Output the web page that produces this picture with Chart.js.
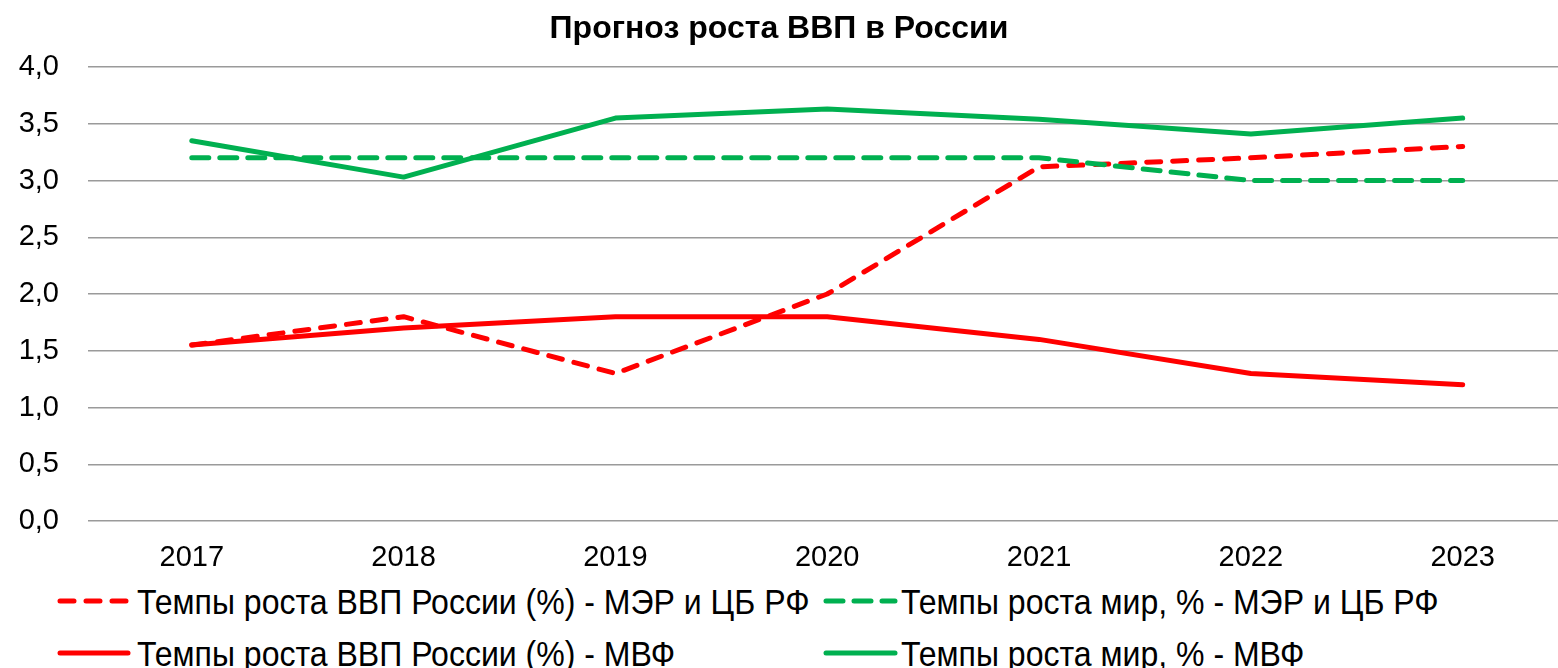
<!DOCTYPE html>
<html>
<head>
<meta charset="utf-8">
<script src="https://cdn.jsdelivr.net/npm/chart.js@4.4.1/dist/chart.umd.min.js"></script>
<style>
  html, body { margin: 0; padding: 0; background: #fff; overflow: hidden; }
  #wrap { position: relative; width: 1558px; height: 668px; overflow: hidden; }
  #c { position: absolute; left: 0; top: 0; }
  .lg { position: absolute; height: 40px; white-space: nowrap; }
  .lg svg { position: absolute; left: 0; top: 12px; }
  .lg span { position: absolute; top: 0; font-family: 'Liberation Sans', Arial, sans-serif; font-size: 35px; line-height: 35px; color: #000; transform: scaleX(0.915); transform-origin: 0 0; }
</style>
</head>
<body>
<div id="wrap">
  <canvas id="c" width="1558" height="580"></canvas>
  <div id="legend"></div>
</div>
<script>
const title = 'Прогноз роста ВВП в России';
const years = ['2017', '2018', '2019', '2020', '2021', '2022', '2023'];
const seriesNames = [
  'Темпы роста ВВП России (%) - МЭР и ЦБ РФ',
  'Темпы роста мир, % - МЭР и ЦБ РФ',
  'Темпы роста ВВП России (%) - МВФ',
  'Темпы роста мир, % - МВФ'
];
const rusMer   = [1.55, 1.80, 1.30, 2.00, 3.12, 3.20, 3.30];
const worldMer = [3.20, 3.20, 3.20, 3.20, 3.20, 3.00, 3.00];
const rusImf   = [1.55, 1.70, 1.80, 1.80, 1.60, 1.30, 1.20];
const worldImf = [3.35, 3.03, 3.55, 3.63, 3.54, 3.41, 3.55];
const yTicks = [0, 0.5, 1, 1.5, 2, 2.5, 3, 3.5, 4];

const RED = '#FF0000', GREEN = '#00B050';
const FONT = "'Liberation Sans', Arial, sans-serif";

const toPts = arr => arr.map((v, i) => ({ x: i, y: v }));
const styles = [
  { color: RED,   dash: [14, 12] },
  { color: GREEN, dash: [17, 11] },
  { color: RED,   dash: [] },
  { color: GREEN, dash: [] }
];
const values = [rusMer, worldMer, rusImf, worldImf];

const datasets = values.map((arr, k) => ({
  label: seriesNames[k],
  data: toPts(arr),
  borderColor: styles[k].color,
  backgroundColor: styles[k].color,
  borderWidth: 5,
  borderDash: styles[k].dash,
  borderCapStyle: 'round',
  borderJoinStyle: 'round',
  pointRadius: 0,
  tension: 0,
  fill: false,
  order: 3 - k
}));

new Chart(document.getElementById('c'), {
  type: 'line',
  data: { datasets },
  options: {
    responsive: false,
    animation: false,
    layout: { padding: { left: 0, right: 0, top: 0, bottom: 0 } },
    plugins: {
      legend: { display: false },
      tooltip: { enabled: false },
      title: {
        display: true,
        text: title,
        color: '#000',
        font: { family: FONT, size: 32, weight: 'bold' },
        padding: { top: 10, bottom: 18.6 }
      }
    },
    scales: {
      x: {
        type: 'linear',
        min: -0.49,
        max: 6.45,
        afterBuildTicks: s => { s.ticks = years.map((_, i) => ({ value: i })); },
        afterFit: s => { s.height = 59; },
        ticks: {
          autoSkip: false,
          maxRotation: 0,
          padding: 20,
          color: '#000',
          font: { family: FONT, size: 29 },
          callback: v => years[v]
        },
        grid: { display: false, drawTicks: false },
        border: { display: false }
      },
      y: {
        min: 0,
        max: 4,
        afterBuildTicks: s => { s.ticks = yTicks.map(v => ({ value: v })); },
        afterFit: s => { s.width = 88; },
        ticks: {
          padding: 29,
          color: '#000',
          font: { family: FONT, size: 29 },
          callback: v => Number(v).toFixed(1).replace('.', ',')
        },
        grid: { color: '#9a9a9a', lineWidth: 1.5, drawTicks: false },
        border: { display: false }
      }
    }
  }
});

// Legend (two columns, two rows)
const legendPos = [
  { x: 56,  y: 584 },
  { x: 822, y: 584 },
  { x: 56,  y: 636 },
  { x: 822, y: 636 }
];
const lg = document.getElementById('legend');
seriesNames.forEach((name, k) => {
  const d = document.createElement('div');
  d.className = 'lg';
  d.style.left = legendPos[k].x + 'px';
  d.style.top = legendPos[k].y + 'px';
  const dash = styles[k].dash.length ? `stroke-dasharray="${styles[k].dash.join(' ')}"` : '';
  d.innerHTML = `<svg width="80" height="10"><line x1="4" y1="5" x2="${k % 2 === 0 ? 72 : 73}" y2="5" stroke="${styles[k].color}" stroke-width="5" stroke-linecap="round" ${dash}/></svg><span style="left:${k % 2 === 0 ? 81 : 79}px">${name}</span>`;
  lg.appendChild(d);
});
</script>
</body>
</html>
